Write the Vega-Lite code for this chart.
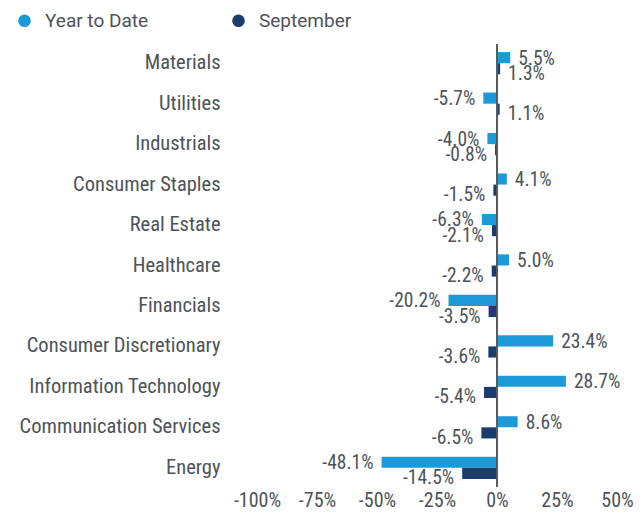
{
  "$schema": "https://vega.github.io/schema/vega-lite/v6.json",
  "width": 360,
  "height": 443,
  "autosize": {"type": "none"},
  "padding": {"left": 257, "top": 44, "right": 27, "bottom": 28},
  "background": "white",
  "config": {
    "view": {"stroke": null},
    "font": "Roboto Condensed, Roboto",
    "text": {"font": "Roboto Condensed, Roboto"}
  },
  "data": {
    "values": [
      {"sector": "Materials", "series": "Year to Date", "value": 0.055},
      {"sector": "Materials", "series": "September", "value": 0.013},
      {"sector": "Utilities", "series": "Year to Date", "value": -0.057},
      {"sector": "Utilities", "series": "September", "value": 0.011},
      {"sector": "Industrials", "series": "Year to Date", "value": -0.040},
      {"sector": "Industrials", "series": "September", "value": -0.008},
      {"sector": "Consumer Staples", "series": "Year to Date", "value": 0.041},
      {"sector": "Consumer Staples", "series": "September", "value": -0.015},
      {"sector": "Real Estate", "series": "Year to Date", "value": -0.063},
      {"sector": "Real Estate", "series": "September", "value": -0.021},
      {"sector": "Healthcare", "series": "Year to Date", "value": 0.050},
      {"sector": "Healthcare", "series": "September", "value": -0.022},
      {"sector": "Financials", "series": "Year to Date", "value": -0.202},
      {"sector": "Financials", "series": "September", "value": -0.035},
      {"sector": "Consumer Discretionary", "series": "Year to Date", "value": 0.234},
      {"sector": "Consumer Discretionary", "series": "September", "value": -0.036},
      {"sector": "Information Technology", "series": "Year to Date", "value": 0.287},
      {"sector": "Information Technology", "series": "September", "value": -0.054},
      {"sector": "Communication Services", "series": "Year to Date", "value": 0.086},
      {"sector": "Communication Services", "series": "September", "value": -0.065},
      {"sector": "Energy", "series": "Year to Date", "value": -0.481},
      {"sector": "Energy", "series": "September", "value": -0.145}
    ]
  },
  "transform": [
    {"calculate": "replace(format(datum.value, '.1%'), '\u2212', '-')", "as": "label"}
  ],
  "encoding": {
    "y": {
      "field": "sector",
      "type": "nominal",
      "sort": null,
      "scale": {"paddingInner": 0.45, "paddingOuter": 0.2},
      "axis": {
        "title": null,
        "ticks": false,
        "domain": false,
        "labelFontSize": 20.5,
        "labelColor": "#4d5358",
        "labelPadding": 37,
        "labelLimit": 400
      }
    },
    "yOffset": {
      "field": "series",
      "type": "nominal",
      "sort": ["Year to Date", "September"],
      "scale": {"domain": ["Year to Date", "September"]}
    },
    "x": {
      "field": "value",
      "type": "quantitative",
      "scale": {"domain": [-1, 0.5], "nice": false},
      "axis": {
        "title": null,
        "values": [-1, -0.75, -0.5, -0.25, 0, 0.25, 0.5],
        "labelExpr": "replace(format(datum.value, '.0%'), '\u2212', '-')",
        "grid": false,
        "domain": false,
        "ticks": false,
        "labelOverlap": false,
        "labelFlush": false,
        "labelFontSize": 20,
        "labelColor": "#4d5358",
        "labelPadding": 3
      }
    }
  },
  "layer": [
    {
      "mark": {"type": "bar"},
      "encoding": {
        "color": {
          "field": "series",
          "type": "nominal",
          "scale": {"domain": ["Year to Date", "September"], "range": ["#1b9ad7", "#1c3c6e"]},
          "legend": {
            "title": null,
            "orient": "none",
            "legendX": -242,
            "legendY": -33,
            "direction": "horizontal",
            "symbolType": "circle",
            "symbolSize": 160,
            "symbolStrokeWidth": 0,
            "labelFont": "Roboto",
            "labelFontSize": 19,
            "labelColor": "#4d5358",
            "labelOffset": 11,
            "columnPadding": 80
          }
        }
      }
    },
    {
      "mark": {"type": "rule", "color": "#555c63", "strokeWidth": 2},
      "encoding": {
        "x": {"datum": 0},
        "y": null,
        "yOffset": null
      }
    },
    {
      "transform": [{"filter": "datum.value >= 0 && datum.series == 'Year to Date'"}],
      "mark": {"type": "text", "align": "left", "baseline": "middle", "dx": 8, "dy": 1, "fontSize": 19.5, "color": "#4d5358"},
      "encoding": {"text": {"field": "label", "type": "nominal"}}
    },
    {
      "transform": [{"filter": "datum.value < 0 && datum.series == 'Year to Date'"}],
      "mark": {"type": "text", "align": "right", "baseline": "middle", "dx": -8, "dy": 1, "fontSize": 19.5, "color": "#4d5358"},
      "encoding": {"text": {"field": "label", "type": "nominal"}}
    },
    {
      "transform": [{"filter": "datum.value >= 0 && datum.series == 'September'"}],
      "mark": {"type": "text", "align": "left", "baseline": "middle", "dx": 8, "dy": 5, "fontSize": 19.5, "color": "#4d5358"},
      "encoding": {"text": {"field": "label", "type": "nominal"}}
    },
    {
      "transform": [{"filter": "datum.value < 0 && datum.series == 'September'"}],
      "mark": {"type": "text", "align": "right", "baseline": "middle", "dx": -8, "dy": 5, "fontSize": 19.5, "color": "#4d5358"},
      "encoding": {"text": {"field": "label", "type": "nominal"}}
    }
  ]
}
